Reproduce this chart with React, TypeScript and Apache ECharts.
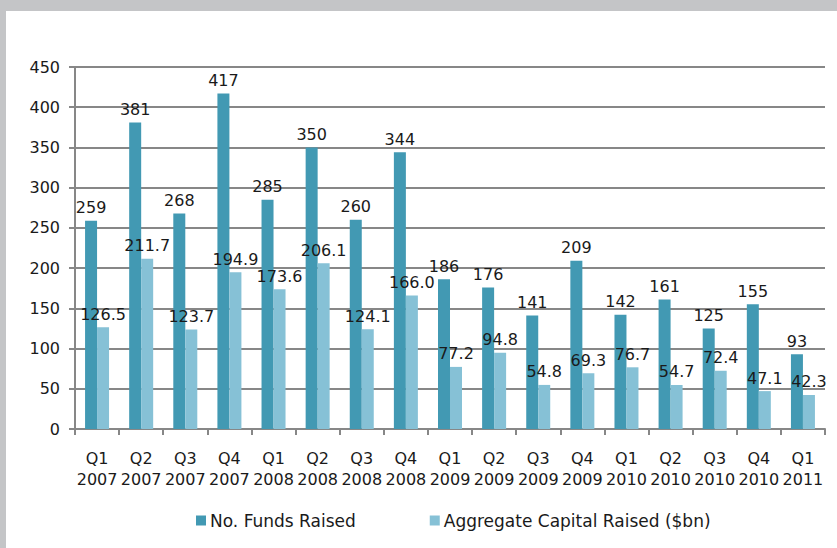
import React, { useEffect, useRef } from "react";
import * as echarts from "echarts";

const categories = [
  "Q1\n2007", "Q2\n2007", "Q3\n2007", "Q4\n2007",
  "Q1\n2008", "Q2\n2008", "Q3\n2008", "Q4\n2008",
  "Q1\n2009", "Q2\n2009", "Q3\n2009", "Q4\n2009",
  "Q1\n2010", "Q2\n2010", "Q3\n2010", "Q4\n2010",
  "Q1\n2011",
];
const fundsRaised = [259, 381, 268, 417, 285, 350, 260, 344, 186, 176, 141, 209, 142, 161, 125, 155, 93];
const capitalRaised = [126.5, 211.7, 123.7, 194.9, 173.6, 206.1, 124.1, 166.0, 77.2, 94.8, 54.8, 69.3, 76.7, 54.7, 72.4, 47.1, 42.3];
const seriesNames = ["No. Funds Raised", "Aggregate Capital Raised ($bn)"];

const FONT = "DejaVu Sans";
const FS = 16;

export default function App() {
  const ref = useRef<HTMLDivElement>(null);
  useEffect(() => {
    if (!ref.current) return;
    const chart = echarts.init(ref.current, undefined, { renderer: "svg" });
    const labelStyle = {
      show: true,
      position: "top" as const,
      distance: 5,
      color: "#1a1a1a",
      fontSize: FS,
      fontFamily: FONT,
    };
    chart.setOption({
      animation: false,
      backgroundColor: "#ffffff",
      graphic: [
        { type: "rect", left: 0, top: 0, shape: { width: 837, height: 11 }, style: { fill: "#c4c5c7" }, silent: true },
        { type: "rect", left: 0, top: 0, shape: { width: 6, height: 548 }, style: { fill: "#c4c5c7" }, silent: true },
      ],
      grid: { left: 75, right: 12, top: 67, bottom: 119, containLabel: false },
      legend: {
        left: 191,
        top: 507,
        itemWidth: 10,
        itemHeight: 10,
        itemGap: 74,
        icon: "rect",
        textStyle: { fontSize: 17, fontFamily: FONT, color: "#1a1a1a", padding: [0, 0, 0, -1] },
        data: seriesNames,
      },
      xAxis: {
        type: "category",
        data: categories,
        axisLine: { lineStyle: { color: "#878787", width: 2 } },
        axisTick: { show: true, length: 6, lineStyle: { color: "#878787", width: 2 } },
        axisLabel: { fontSize: FS, fontFamily: FONT, color: "#1a1a1a", lineHeight: 21, margin: 19, interval: 0 },
      },
      yAxis: {
        type: "value",
        min: 0,
        max: 450,
        interval: 50,
        axisLine: { show: true, lineStyle: { color: "#878787", width: 2 } },
        axisTick: { show: true, length: 6, lineStyle: { color: "#878787", width: 2 } },
        splitLine: { lineStyle: { color: "#878787", width: 2 } },
        axisLabel: { fontSize: FS, fontFamily: FONT, color: "#1a1a1a", margin: 15 },
      },
      series: [
        {
          name: seriesNames[0],
          type: "bar",
          data: fundsRaised,
          barWidth: 12,
          barGap: "0%",
          itemStyle: { color: "#4299b3" },
          label: labelStyle,
        },
        {
          name: seriesNames[1],
          type: "bar",
          data: capitalRaised,
          barWidth: 12,
          barGap: "0%",
          itemStyle: { color: "#86c1d6" },
          label: { ...labelStyle, formatter: (p: any) => Number(p.value).toFixed(1) },
        },
      ],
    });
    return () => chart.dispose();
  }, []);
  return <div ref={ref} style={{ width: 837, height: 548, position: "absolute", left: 0, top: 0 }} />;
}
